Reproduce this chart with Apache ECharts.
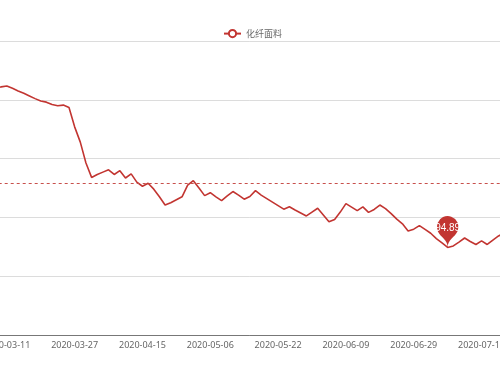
<!DOCTYPE html>
<html>
<head>
<meta charset="utf-8">
<script src="https://cdn.jsdelivr.net/npm/echarts@6/dist/echarts.min.js"></script>
<style>
html,body{margin:0;padding:0;width:500px;height:375px;overflow:hidden;background:#fff;}
#chart{position:absolute;left:-40px;top:0;width:560px;height:375px;}
</style>
</head>
<body>
<div id="chart"></div>
<script>
var seriesName = '化纤面料';
var categories = [
  '2020-03-09','2020-03-10','2020-03-11','2020-03-12','2020-03-13','2020-03-16','2020-03-17','2020-03-18','2020-03-19','2020-03-20',
  '2020-03-23','2020-03-24','2020-03-25','2020-03-26','2020-03-27','2020-03-30','2020-03-31','2020-04-01','2020-04-02','2020-04-03',
  '2020-04-07','2020-04-08','2020-04-09','2020-04-10','2020-04-13','2020-04-14','2020-04-15','2020-04-16','2020-04-17','2020-04-20',
  '2020-04-21','2020-04-22','2020-04-23','2020-04-24','2020-04-27','2020-04-28','2020-04-29','2020-04-30','2020-05-06','2020-05-07',
  '2020-05-08','2020-05-11','2020-05-12','2020-05-13','2020-05-14','2020-05-15','2020-05-18','2020-05-19','2020-05-20','2020-05-21',
  '2020-05-22','2020-05-25','2020-05-26','2020-05-27','2020-05-28','2020-05-29','2020-06-01','2020-06-02','2020-06-03','2020-06-04',
  '2020-06-05','2020-06-08','2020-06-09','2020-06-10','2020-06-11','2020-06-12','2020-06-15','2020-06-16','2020-06-17','2020-06-18',
  '2020-06-19','2020-06-22','2020-06-23','2020-06-24','2020-06-29','2020-06-30','2020-07-01','2020-07-02','2020-07-03','2020-07-06',
  '2020-07-07','2020-07-08','2020-07-09','2020-07-10','2020-07-13','2020-07-14','2020-07-15','2020-07-16','2020-07-17','2020-07-20',
  '2020-07-21'
];
var values = [
  122.1,122.2,122.35,121.95,121.5,121.1,120.65,120.2,119.8,119.6,
  119.2,119.0,119.1,118.7,115.4,112.8,109.25,106.8,107.3,107.7,
  108.1,107.3,107.95,106.7,107.4,106.0,105.3,105.8,104.8,103.5,
  102.1,102.5,103.0,103.5,105.5,106.25,105.0,103.7,104.2,103.5,
  102.85,103.65,104.4,103.8,103.1,103.55,104.55,103.8,103.2,102.6,
  102.0,101.4,101.8,101.25,100.75,100.25,100.9,101.55,100.4,99.25,
  99.65,100.9,102.35,101.75,101.15,101.8,100.85,101.35,102.1,101.5,
  100.65,99.7,98.9,97.7,98.0,98.6,97.95,97.3,96.4,95.65,
  94.89,95.15,95.8,96.5,95.9,95.4,96.0,95.4,96.15,96.85,
  97.35
];
var averageValue = 105.85;
var yTicks = { min: 80, max: 130, interval: 10 };
var labelStart = 2, labelStep = 12;

var color = '#c23531';
var showLabel = function (idx) { return idx >= labelStart && (idx - labelStart) % labelStep === 0; };
var chart = echarts.init(document.getElementById('chart'), null, { renderer: 'canvas' });
chart.setOption({
  animation: false,
  color: [color],
  legend: {
    data: [seriesName],
    left: 258, top: 24,
    itemWidth: 17, itemHeight: 9, itemGap: 4,
    textStyle: { fontSize: 9, color: '#666', fontFamily: 'Noto Sans CJK SC' }
  },
  grid: { left: 32.7, right: 13, top: 41, bottom: 40, containLabel: false },
  xAxis: {
    type: 'category',
    data: categories,
    boundaryGap: true,
    axisLine: { lineStyle: { color: '#777' } },
    axisTick: { interval: showLabel, length: 4, lineStyle: { color: '#777' } },
    axisLabel: { interval: showLabel, fontSize: 9, color: '#666', margin: 6, fontFamily: 'Noto Sans' }
  },
  yAxis: {
    type: 'value',
    min: yTicks.min, max: yTicks.max, interval: yTicks.interval,
    axisLine: { show: false }, axisTick: { show: false },
    axisLabel: { fontSize: 9, color: '#666' },
    splitLine: { lineStyle: { color: '#dcdcdc', width: 1 } }
  },
  series: [{
    name: seriesName,
    type: 'line',
    data: values,
    symbol: 'emptyCircle',
    showSymbol: false,
    lineStyle: { width: 1.6, color: color },
    itemStyle: { color: color },
    markPoint: {
      symbol: 'pin',
      symbolSize: 36,
      data: [{ type: 'min', name: '最小值' }],
      label: { fontSize: 10, color: '#fff' },
      itemStyle: { color: color }
    },
    markLine: {
      symbol: 'none',
      silent: true,
      label: { show: false },
      lineStyle: { type: [3, 3], color: '#c8504c', width: 1, opacity: 1 },
      emphasis: { disabled: true },
      data: [{ yAxis: averageValue, name: '平均值' }]
    }
  }]
});
</script>
</body>
</html>
